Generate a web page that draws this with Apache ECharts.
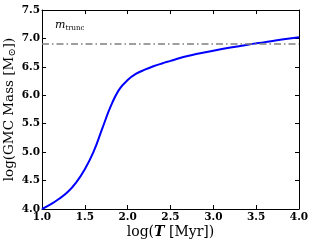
<!DOCTYPE html>
<html><head><meta charset="utf-8">
<script src="https://cdn.jsdelivr.net/npm/echarts@6/dist/echarts.min.js"></script>
<style>html,body{margin:0;padding:0;background:#fff}#c{width:312px;height:244px}</style>
</head><body><div id="c"></div>
<script>
const logT = [1.0,1.1,1.2,1.3,1.4,1.5,1.6,1.7,1.8,1.9,2.0,2.1,2.2,2.3,2.4,2.5,2.6,2.7,2.8,3.0,3.2,3.4,3.6,3.8,4.0];
const logMass = [4.00,4.08,4.18,4.30,4.47,4.70,5.00,5.40,5.80,6.10,6.27,6.38,6.45,6.51,6.56,6.605,6.65,6.69,6.725,6.785,6.84,6.89,6.935,6.98,7.02];
const mTrunc = 6.9;
const xTicks = ['1.0','1.5','2.0','2.5','3.0','3.5','4.0'];
const yTicks = ['4.0','4.5','5.0','5.5','6.0','6.5','7.0','7.5'];

const serif = 'DejaVu Serif';
const chart = echarts.init(document.getElementById('c'), null, {renderer:'canvas'});
const tickLabel = {fontFamily: serif, fontWeight:'bold', fontSize:10.5, color:'#000'};
const axisCommon = {
  axisLine:{show:true, onZero:false, lineStyle:{color:'#000', width:1}},
  axisTick:{show:true, inside:true, length:4, lineStyle:{color:'#000', width:1}},
  splitLine:{show:false}
};
chart.setOption({
  animation:false,
  grid:{left:42, top:10, right:13, bottom:35, containLabel:false, outerBoundsMode:'none'},
  xAxis:[
    Object.assign({type:'value', min:1, max:4, interval:0.5, position:'bottom',
      axisLabel:Object.assign({margin:3, formatter:v=>xTicks[Math.round((v-1)/0.5)]}, tickLabel),
      name:'{r|log(}{b|T}{r| [Myr])}', nameLocation:'middle', nameGap:16, nameMoveOverlap:false,
      nameTextStyle:{verticalAlign:'top', rich:{r:{fontFamily:serif, fontSize:14, color:'#000'}, b:{fontFamily:serif, fontSize:14, fontWeight:'bold', fontStyle:'italic', color:'#000'}}}
    }, axisCommon),
    Object.assign({type:'value', min:1, max:4, interval:0.5, position:'top', axisLabel:{show:false}}, axisCommon)
  ],
  yAxis:[
    Object.assign({type:'value', min:4, max:7.5, interval:0.5, position:'left',
      axisLabel:Object.assign({margin:2, formatter:v=>yTicks[Math.round((v-4)/0.5)]}, tickLabel),
      name:'{r|log(GMC Mass [M}{s|⊙}{r|])}', nameLocation:'middle', nameGap:25, nameRotate:90, nameMoveOverlap:false,
      nameTextStyle:{rich:{r:{fontFamily:serif, fontSize:13.5, color:'#000'}, s:{fontFamily:serif, fontSize:10, color:'#000', verticalAlign:'bottom', padding:[6,0,0,0]}}}
    }, axisCommon),
    Object.assign({type:'value', min:4, max:7.5, interval:0.5, position:'right', axisLabel:{show:false}}, axisCommon)
  ],
  graphic:[{
    type:'text', left:55, top:20,
    style:{text:'{m|m}{t|trunc}', rich:{m:{fontFamily:serif, fontStyle:'italic', fontSize:11, fill:'#000'}, t:{fontFamily:serif, fontSize:7, fill:'#000', padding:[5,0,0,0]}}}
  }],
  series:[{
    type:'line', xAxisIndex:0, yAxisIndex:0,
    data: logT.map((x,i)=>[x, logMass[i]]),
    smooth:0.4, showSymbol:false,
    lineStyle:{color:'#0000ff', width:2},
    markLine:{silent:true, symbol:'none', label:{show:false},
      lineStyle:{color:'#7f7f7f', width:1.5, type:[7,3,1.5,3]},
      data:[{yAxis:mTrunc}]}
  }]
});
</script></body></html>
